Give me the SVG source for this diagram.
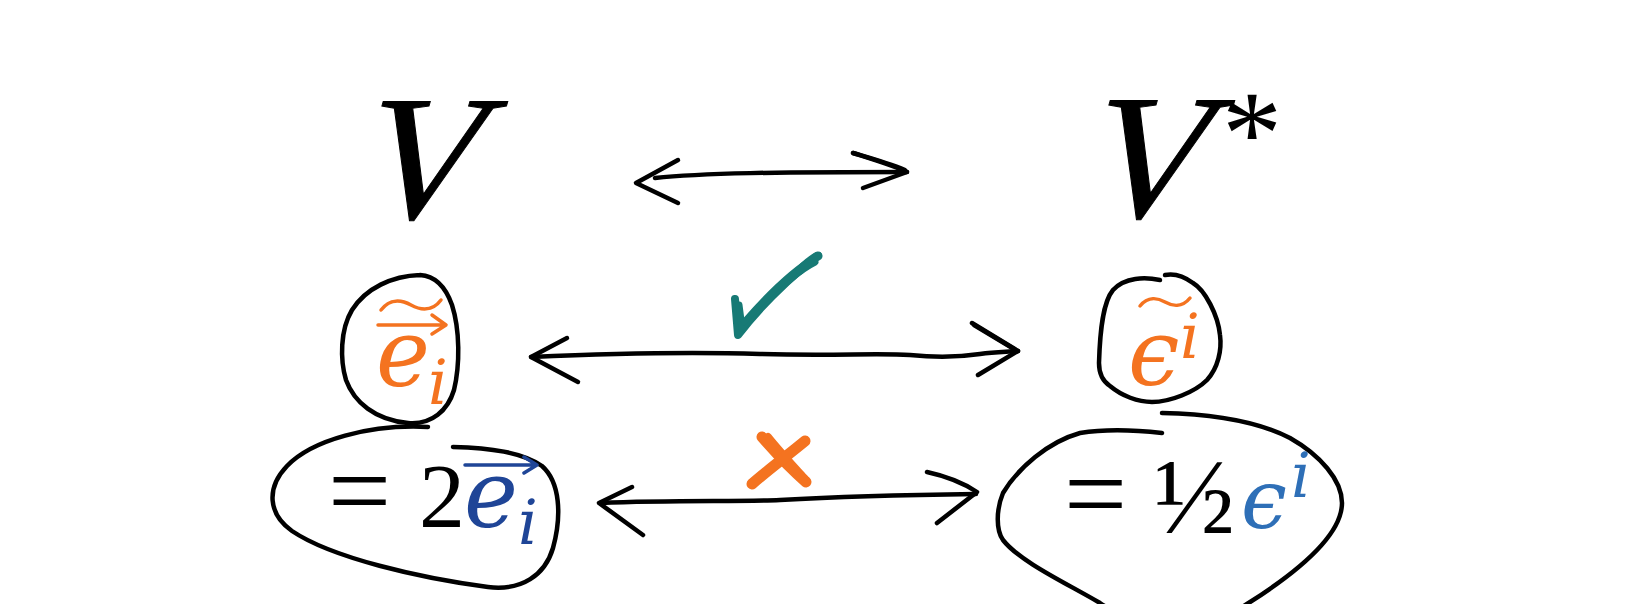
<svg xmlns="http://www.w3.org/2000/svg" width="1634" height="604" viewBox="0 0 1634 604">
<style>
.bg{fill:#ffffff}
.big{font-family:"Liberation Serif",serif;fill:#000;stroke:#000;stroke-width:1}
.mi{font-family:"DejaVu Serif","Liberation Serif",serif;font-style:italic}
.rm{font-family:"Liberation Serif","DejaVu Serif",serif;fill:#000}
.ink{fill:none;stroke:#000;stroke-width:4.5;stroke-linecap:round;stroke-linejoin:round}
.orange{fill:#f47320}
.oline{fill:none;stroke:#f47320;stroke-width:3.5;stroke-linecap:round;stroke-linejoin:round}
.bline{fill:none;stroke:#1f4597;stroke-width:3.5;stroke-linecap:round;stroke-linejoin:round}
.dblue{fill:#1f4597}
.lblue{fill:#2e6fb7}
</style>
<rect class="bg" x="0" y="0" width="1634" height="604"/>

<g id="node-V">
<text class="big" transform="translate(412,218) skewX(-16)" x="0" y="0" font-size="178" text-anchor="middle">V</text>
</g>

<g id="node-Vstar">
<text class="big" transform="translate(1139,217) skewX(-16)" x="0" y="0" font-size="178" text-anchor="middle">V</text>
<text class="rm" x="1252" y="174" font-size="120" text-anchor="middle">*</text>
</g>

<g id="node-e-tilde">
<path class="ink" d="M420,275 C392,276 366,288 352,310 C340,330 340,360 346,380 C354,402 375,420 408,423 C432,425 448,410 454,390 C460,365 460,330 452,305 C446,288 436,276 420,275"/>
<path class="oline" d="M381,310 C390,298 402,300 411,305 S432,312 441,300"/>
<path class="oline" d="M378,325 H444 M432,315 L446,325 L432,334"/>
<text class="mi orange" x="376" y="386" font-size="94" textLength="54" lengthAdjust="spacingAndGlyphs">e</text>
<text class="mi orange" x="428" y="404" font-size="62">i</text>
</g>

<g id="node-eps-tilde">
<path class="ink" d="M1160,280 C1145,277 1125,277 1113,290 C1103,302 1100,330 1099,363 C1099,375 1104,382 1110,386 C1122,396 1138,402 1152,402 C1170,402 1195,392 1207,380 C1218,368 1222,350 1220,335 C1218,315 1205,290 1193,283 C1185,277 1175,273 1165,275"/>
<path class="oline" d="M1140,306 C1148,296 1158,298 1165,302 S1182,308 1190,298"/>
<text class="mi orange" x="1128" y="385" font-size="92">ϵ</text>
<text class="mi orange" x="1180" y="358" font-size="62">i</text>
</g>

<g id="node-2e">
<path class="ink" d="M428,427 C370,424 312,440 287,466 C266,488 268,514 292,531 C332,558 420,578 488,587 C522,591 545,575 553,548 C562,515 560,482 542,466 C522,452 490,448 453,447"/>
<text class="rm" x="328" y="528" font-size="112">=</text>
<text class="rm" x="419" y="527" font-size="92">2</text>
<path class="bline" d="M465,465 H535 M524,457 L537,465 L524,473"/>
<text class="mi dblue" x="464" y="527" font-size="94" textLength="54" lengthAdjust="spacingAndGlyphs">e</text>
<text class="mi dblue" x="518" y="544" font-size="62">i</text>
</g>

<g id="node-half-eps">
<path class="ink" d="M1162,433 C1135,430 1105,429 1080,433 C1048,442 1018,468 1003,493 C996,510 996,530 1003,540 C1020,562 1070,585 1100,603 C1125,620 1150,628 1175,627 C1205,625 1230,615 1247,604 C1285,580 1342,540 1342,503 C1342,480 1320,455 1290,438 C1255,420 1210,414 1162,413"/>
<text class="rm" x="1064" y="531" font-size="112">=</text>
<text class="rm" x="1154" y="533" font-size="108">½</text>
<text class="mi lblue" x="1241" y="528" font-size="82">ϵ</text>
<text class="mi lblue" x="1291" y="497" font-size="62">i</text>
</g>

<g id="connectors">
<g id="arrow-top">
<path class="ink" d="M655,178 C700,173 780,172 907,172"/>
<path class="ink" d="M678,160 L636,183 L678,203"/>
<path class="ink" d="M853,153 C875,160 895,166 907,172 L863,188"/>
<path class="ink" d="M853,153 C870,158 888,163 905,170" stroke-width="8"/>
</g>
<g id="arrow-middle">
<path class="ink" d="M531,357 C620,353 700,352 760,354 C830,356 880,353 910,355 C940,358 960,357 980,354 C995,352 1005,352 1018,351"/>
<path class="ink" d="M567,338 L531,357 L578,382"/>
<path class="ink" d="M972,323 L1018,351 L978,375"/>
<path class="ink" d="M974,325 L1014,349" stroke-width="3"/>
</g>
<g id="arrow-bottom">
<path class="ink" d="M600,503 C680,500 740,502 780,500 C850,496 900,495 976,494"/>
<path class="ink" d="M632,487 L599,503 L643,535"/>
<path class="ink" d="M927,472 C950,477 965,484 977,492 L937,523"/>
</g>
<g id="check" fill="none" stroke="#177a75" stroke-linecap="round" stroke-linejoin="round">
<path d="M735,299 L738,335 C762,304 788,279 817,256" stroke-width="8"/>
<path d="M739,305 L742,328 C768,298 793,273 815,262" stroke-width="7"/>
<path d="M744,322 C770,292 795,268 819,255" stroke-width="6"/>
<path d="M800,270 C808,262 814,258 818,256" stroke-width="9"/>
</g>
<g id="cross" fill="none" stroke="#f47320" stroke-linecap="round">
<path d="M762,437 C775,452 792,470 806,482" stroke-width="11"/>
<path d="M768,437 C780,452 795,468 804,478" stroke-width="8"/>
<path d="M752,484 C768,470 788,455 805,441" stroke-width="11"/>
</g>
</g>
</svg>
